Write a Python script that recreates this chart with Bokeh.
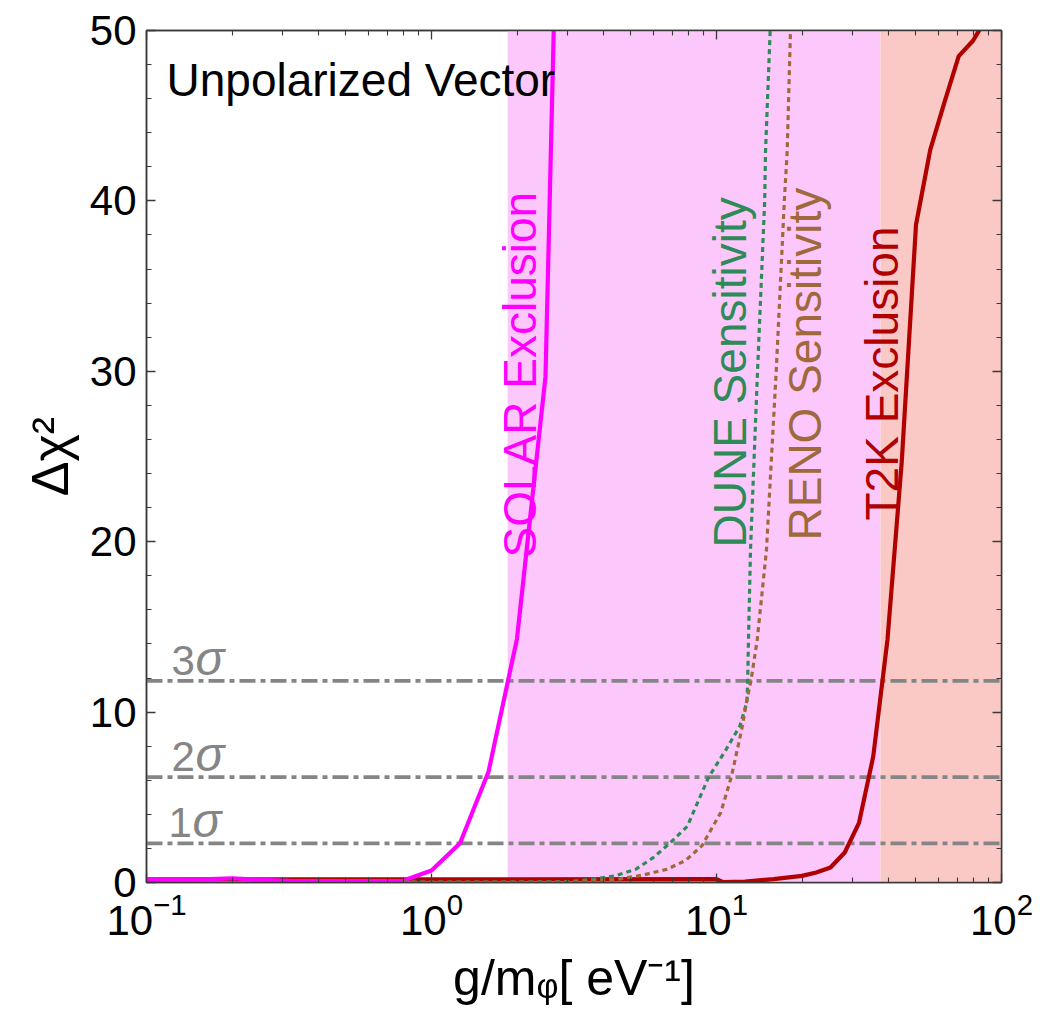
import math
from bokeh.plotting import figure
from bokeh.models import (Range1d, LinearAxis, LogAxis, FixedTicker, Span, BoxAnnotation,
                          CustomJSTickFormatter)
from bokeh.embed import file_html
from bokeh.resources import INLINE
from bokeh.core.properties import value

# ---------------- data ----------------
solar_g = [0.1, 0.126, 0.158, 0.2, 0.251, 0.316, 0.398, 0.501, 0.631, 0.794,
           1.0, 1.259, 1.585, 1.995, 2.512, 3.162]
solar_chi2 = [0.15, 0.15, 0.18, 0.25, 0.15, 0.1, 0.08, 0.08, 0.08, 0.1,
              0.7, 2.3, 6.5, 14.3, 29.7, 100.0]

dune_g = [0.79, 2.0, 3.0, 3.72, 4.4, 5.21, 6.0, 6.9, 7.9, 9.39, 10.8, 12.08,
          12.79, 12.86, 12.95, 13.16, 13.93, 14.76, 14.86, 15.43]
dune_chi2 = [0.02, 0.02, 0.05, 0.2, 0.39, 0.78, 1.46, 2.34, 3.3, 6.19, 7.8, 9.18,
             10.6, 11.8, 14.26, 19.5, 30.0, 40.0, 42.9, 50.0]

reno_g = [0.79, 3.0, 4.53, 5.5, 6.71, 7.8, 8.88, 10.35, 11.27, 12.26, 12.79, 13.2,
          13.9, 14.97, 16.2, 17.3, 17.7, 18.18]
reno_chi2 = [0.02, 0.02, 0.2, 0.43, 0.78, 1.3, 2.15, 4.1, 6.19, 8.98, 10.74, 11.8,
             14.26, 19.5, 30.0, 40.0, 42.9, 50.0]

t2k_g = [0.1, 1.0, 10.0, 10.5, 12.59, 15.85, 19.95, 22.39, 25.12, 28.18, 31.62,
         35.48, 39.81, 44.67, 50.12, 56.23, 63.10, 70.79, 79.43, 89.13, 100.0]
t2k_chi2 = [0.18, 0.18, 0.2, 0.03, 0.06, 0.2, 0.39, 0.59, 0.88, 1.76, 3.5,
            7.4, 14.26, 24.7, 38.6, 43.0, 45.8, 48.5, 49.4, 50.8, 52.0]

sigma_levels = [2.30, 6.18, 11.83]
sigma_names = ["1", "2", "3"]

solar_excl_min = 1.85   # start of SOLAR-excluded band
t2k_excl_min = 37.6     # start of T2K-excluded band

x_major = [0.1, 1, 10, 100]
x_minor = [m * 10.0 ** e for e in (-1, 0, 1) for m in range(2, 10)]
y_major = [0, 10, 20, 30, 40, 50]
y_minor = list(range(0, 51, 2))

# ---------------- layout ----------------
FONT = "Liberation Sans"
FL, FT, FW, FH = 146, 30, 855, 852
X0, X1 = 0.1, 100.0
Y0, Y1 = 0.0, 50.0
BASE = 0.37   # bokeh's alphabetic-baseline shift, in em


def pos(px, py):
    """picture pixel -> data coordinates (for text placement)"""
    fx = (px - FL) / FW
    fy = (py - FT) / FH
    x = 10 ** (math.log10(X0) + fx * (math.log10(X1) - math.log10(X0)))
    y = Y1 - fy * (Y1 - Y0)
    return x, y


p = figure(x_axis_type="log", x_range=Range1d(X0, X1), y_range=Range1d(Y0, Y1),
           frame_width=FW, frame_height=FH,
           min_border_left=FL, min_border_top=FT, min_border_right=36, min_border_bottom=128,
           output_backend="svg", toolbar_location=None)
p.xgrid.visible = False
p.ygrid.visible = False
p.outline_line_color = "#3a3a3a"
p.outline_line_width = 1.5

AX = "#3a3a3a"


def style_axis(ax, show_labels):
    ax.axis_line_color = AX
    ax.axis_line_width = 1.5
    ax.major_tick_line_color = AX
    ax.minor_tick_line_color = AX
    ax.major_tick_line_width = 1.3
    ax.minor_tick_line_width = 1.1
    ax.major_tick_in = 9
    ax.major_tick_out = 0
    ax.minor_tick_in = 5
    ax.minor_tick_out = 0
    ax.major_label_text_font = FONT
    ax.major_label_text_color = "black"
    if show_labels:
        ax.major_label_text_font_size = "42px"
    else:
        ax.major_label_text_font_size = "1px"
        ax.major_label_standoff = 0


xt = FixedTicker(ticks=x_major, minor_ticks=x_minor)
yt = FixedTicker(ticks=y_major, minor_ticks=y_minor)

xa = p.xaxis[0]
ya = p.yaxis[0]
xa.ticker = xt
ya.ticker = yt
style_axis(xa, True)
style_axis(ya, True)
xa.major_label_standoff = 9
ya.major_label_standoff = 10

ya.axis_label = "Δχ²"
ya.axis_label_text_font = FONT
ya.axis_label_text_font_size = "52px"
ya.axis_label_text_font_style = "normal"
ya.axis_label_text_color = "black"
ya.axis_label_standoff = 8

xa.axis_label = "g/mᵩ[ eV⁻¹]"
xa.axis_label_text_font = FONT
xa.axis_label_text_font_size = "50px"
xa.axis_label_text_font_style = "normal"
xa.axis_label_text_color = "black"
xa.axis_label_standoff = 12

blank = CustomJSTickFormatter(code="return ''")
top = LogAxis(ticker=FixedTicker(ticks=x_major, minor_ticks=x_minor), formatter=blank)
right = LinearAxis(ticker=FixedTicker(ticks=y_major, minor_ticks=y_minor), formatter=blank)
style_axis(top, False)
style_axis(right, False)
p.add_layout(top, "above")
p.add_layout(right, "right")

# excluded bands
p.add_layout(BoxAnnotation(left=solar_excl_min, right=t2k_excl_min, fill_color="#FCC8FC",
                           fill_alpha=1.0, line_color=None, level="underlay"))
p.add_layout(BoxAnnotation(left=t2k_excl_min, right=X1, fill_color="#FBC9C5",
                           fill_alpha=1.0, line_color=None, level="underlay"))

# sigma lines
for lv in sigma_levels:
    p.add_layout(Span(location=lv, dimension="width", line_color="#858585", line_width=3.8,
                      line_dash="16 5 5 5", level="underlay"))

# curves
p.line(t2k_g, t2k_chi2, line_color="#B00000", line_width=4.2)
p.line(solar_g, solar_chi2, line_color="#FF00FF", line_width=4.2)
p.line(dune_g, dune_chi2, line_color="#2E8B57", line_width=3.2, line_dash="5 4")
p.line(reno_g, reno_chi2, line_color="#A0693C", line_width=3.2, line_dash="5 4")

# sigma labels
for lv, nm in zip(sigma_levels, sigma_names):
    ly = FT + FH - lv * (FH / 50.0) - 5
    x0 = 168 if nm == "1" else 171
    dx, dy = pos(x0, ly - BASE * 42)
    p.text(x=[dx], y=[dy], text=[nm], text_color="#858585", text_font=value(FONT),
           text_font_size="42px", text_align="left", text_baseline="alphabetic")
    sx, sy = pos(x0 + 24, ly - BASE * 48)
    p.text(x=[sx], y=[sy], text=["σ"], text_color="#858585", text_font=value(FONT),
           text_font_style="italic", text_font_size="48px", text_align="left",
           text_baseline="alphabetic")

# rotated curve labels (px = baseline x, py = start of text)
rot = [("SOLAR Exclusion", "#FF00FF", 537, 557),
       ("DUNE Sensitivity", "#2E8B57", 747, 547),
       ("RENO Sensitivity", "#A0693C", 822, 540),
       ("T2K Exclusion", "#B00000", 899, 520)]
for txt, col, px, py in rot:
    dx, dy = pos(px - BASE * 46, py)
    p.text(x=[dx], y=[dy], text=[txt], angle=math.pi / 2, text_color=col,
           text_font=value(FONT), text_font_size="46px", text_align="left",
           text_baseline="alphabetic")

# title inside plot
tx, ty = pos(166, 97 - BASE * 46)
p.text(x=[tx], y=[ty], text=["Unpolarized Vector"], text_color="black",
       text_font=value(FONT), text_font_size="46px", text_align="left",
       text_baseline="alphabetic")

open("out.html", "w").write(file_html(p, INLINE))
